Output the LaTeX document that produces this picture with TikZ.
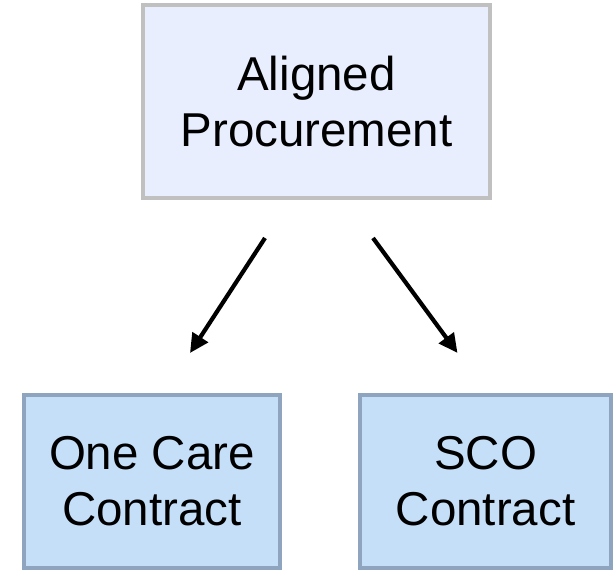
\documentclass[tikz,border=0pt]{standalone}
\definecolor{procfill}{RGB}{232,238,254}
\definecolor{procline}{RGB}{192,192,192}
\definecolor{contractfill}{RGB}{198,223,249}
\definecolor{contractline}{RGB}{142,164,191}
\usepackage{fontspec}
\setmainfont{Liberation Sans}
\usepackage{tikz}
\usetikzlibrary{arrows.meta,positioning,calc}

\begin{document}
\begin{tikzpicture}[x=1pt,y=-1pt,
    box/.style={draw,line width=4pt,align=center,inner sep=0pt,
        font=\fontsize{47.5}{56}\selectfont},
    arr/.style={line width=4.2pt,-{Triangle[length=19pt,width=18pt]}}]
    \useasboundingbox (0,0) rectangle (615,572);
    % Top box
    \node[box,fill=procfill,draw=procline,minimum width=347pt,minimum height=193pt]
        (proc) at (316.5,101.5) {Aligned\\Procurement};

    % Contracts
    \node[box,fill=contractfill,draw=contractline,minimum width=256pt,minimum height=173pt]
        (onecare) at (152,481.5) {One Care\\Contract};
    \node[box,fill=contractfill,draw=contractline,minimum width=251pt,minimum height=173pt]
        (sco) at (485.5,481.5) {SCO\\Contract};

    % Arrows
    \coordinate (l1) at ($(proc.south)+(-51.5,38)$);
    \coordinate (l2) at ($(onecare.north)+(38,-40)$);
    \coordinate (r1) at ($(proc.south)+(56.5,38)$);
    \coordinate (r2) at ($(sco.north)+(-28,-40)$);
    \draw[arr] (l1) -- (l2);
    \draw[arr] (r1) -- (r2);
\end{tikzpicture}
\end{document}
